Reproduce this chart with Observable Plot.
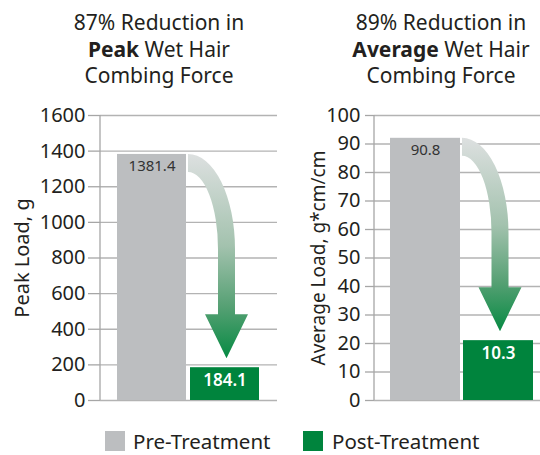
<!DOCTYPE html>
<html>
<head>
<meta charset="utf-8">
<script src="https://cdn.jsdelivr.net/npm/d3@7"></script>
<script src="https://cdn.jsdelivr.net/npm/@observablehq/plot@0.6"></script>
<style>
  body { margin: 0; background: #fff; font-family: "Noto Sans", sans-serif; color: #231f20; }
  #wrap { position: relative; width: 540px; height: 455px; background: #fff; }
  .title { position: absolute; top: 9px; width: 240px; text-align: center; font-size: 21px; line-height: 26.5px; }
  .panel { position: absolute; top: 95px; }
  .sw { position: absolute; top: 431px; width: 20px; height: 20px; }
  .lg { position: absolute; top: 430px; font-size: 20.5px; line-height: 22px; white-space: nowrap; }
</style>
</head>
<body>
<div id="wrap">
  <div class="title" style="left:39px">87% Reduction in<br><b>Peak</b> Wet Hair<br>Combing Force</div>
  <div class="title" style="left:321px">89% Reduction in<br><b>Average</b> Wet Hair<br>Combing Force</div>
  <div class="panel" id="p1" style="left:0px"></div>
  <div class="panel" id="p2" style="left:270px"></div>
  <div class="sw" style="left:105px;background:#bcbec0"></div>
  <div class="lg" style="left:133px">Pre-Treatment</div>
  <div class="sw" style="left:303px;background:#00843d"></div>
  <div class="lg" style="left:332px">Post-Treatment</div>
</div>
<script>
// ---- data ----
const categories = ["Pre-Treatment", "Post-Treatment"];
const barColors = ["#bcbec0", "#00843d"];
const peakValues = [1381.4, 184.1];
const peakLabels = ["1381.4", "184.1"];
const peakTicks = [0, 200, 400, 600, 800, 1000, 1200, 1400, 1600];
const avgValues = [92, 21];          // bar heights as drawn in the reference
const avgLabels = ["90.8", "10.3"];  // printed values
const avgTicks = [0, 10, 20, 30, 40, 50, 60, 70, 80, 90, 100];

function axisLine(stroke) {
  return (index, scales, values, dims) => {
    const l = d3.create("svg:line")
      .attr("x1", dims.marginLeft).attr("x2", dims.marginLeft)
      .attr("y1", dims.marginTop).attr("y2", dims.height - dims.marginBottom)
      .attr("stroke", stroke).attr("stroke-width", 1.3);
    return l.node();
  };
}

function arrowMark(values, id) {
  return (index, scales) => {
    const x = scales.x, y = scales.y;
    const bw = typeof x.bandwidth === "function" ? x.bandwidth() : x.bandwidth;
    const x0 = x(categories[0]) + bw + 2;
    const yT = y(values[0]);
    const xc = x(categories[1]) + bw / 2 + 2;
    const yTip = y(values[1]) - 9;
    const band = 18, sh = 8.5, hw = 21.5, hh = 44, b = 95;
    const yH = yTip - hh;
    const xo = xc + sh, xi = xc - sh;
    const d = `M${x0},${yT} A${xo - x0},${b} 0 0 1 ${xo},${yT + b} L${xo},${yH} L${xc + hw},${yH} L${xc},${yTip} L${xc - hw},${yH} L${xi},${yH} L${xi},${yT + b} A${xi - x0},${b - band} 0 0 0 ${x0},${yT + band} Z`;
    const g = d3.create("svg:g");
    const grad = g.append("defs").append("linearGradient")
      .attr("id", id).attr("x1", 0).attr("y1", 0).attr("x2", 0).attr("y2", 1);
    [[0, "#dde0e0"], [0.45, "#a3c2ae"], [0.75, "#55a073"], [1, "#068a43"]].forEach(([o, c]) =>
      grad.append("stop").attr("offset", o).attr("stop-color", c));
    g.append("path").attr("d", d).attr("fill", `url(#${id})`);
    return g.node();
  };
}

function panel({values, labels, ticks, domain, yLabel, width, marginLeft, range, padIn, tickSize, tickPadding, labelDx, id, labelSize}) {
  const rows = categories.map((c, i) => ({cat: c, value: values[i], label: labels[i], i}));
  return Plot.plot({
    width, height: 320,
    marginTop: 20, marginBottom: 15, marginLeft, marginRight: 0,
    style: {fontFamily: "Noto Sans", fontSize: "20px", background: "transparent", color: "#231f20", overflow: "visible"},
    x: {domain: categories, range, paddingInner: padIn, paddingOuter: 0, round: false, axis: null},
    y: {domain, axis: null},
    color: {domain: categories, range: barColors},
    marks: [
      Plot.gridY(ticks, {stroke: "#b3b3b3", strokeOpacity: 1, strokeWidth: 1.3}),
      Plot.axisY(ticks, {tickSize, tickPadding, fontSize: 20, label: null, tickFormat: d => String(d), stroke: "#a6a6a6", strokeWidth: 1.3, fill: "#231f20"}),
      axisLine("#a6a6a6"),
      Plot.barY(rows, {x: "cat", y: "value", fill: "cat"}),
      Plot.text(rows.filter(d => d.i === 0), {x: "cat", y: "value", text: "label", lineAnchor: "top", dy: 6, fontSize: 15, fill: "#333"}),
      Plot.text(rows.filter(d => d.i === 1), {x: "cat", y: "value", text: "label", lineAnchor: "top", dy: 6, fontSize: 17, fontWeight: 600, fill: "#fff"}),
      arrowMark(values, id),
      Plot.text([yLabel], {text: d => d, frameAnchor: "left", dx: labelDx, rotate: -90, fontSize: labelSize, textAnchor: "middle", fill: "#231f20"})
    ]
  });
}

document.getElementById("p1").append(panel({
  values: peakValues, labels: peakLabels, ticks: peakTicks, domain: [0, 1600],
  yLabel: "Peak Load, g", width: 277, marginLeft: 100, range: [117, 259], padIn: 4 / 73,
  tickSize: 12, tickPadding: 3, labelDx: -78, id: "gradA", labelSize: 20
}));
document.getElementById("p2").append(panel({
  values: avgValues, labels: avgLabels, ticks: avgTicks, domain: [0, 100],
  yLabel: "Average Load, g*cm/cm", width: 270, marginLeft: 104, range: [120, 263], padIn: 3 / 73,
  tickSize: 9, tickPadding: 5, labelDx: -56, id: "gradB", labelSize: 19
}));
</script>
</body>
</html>
